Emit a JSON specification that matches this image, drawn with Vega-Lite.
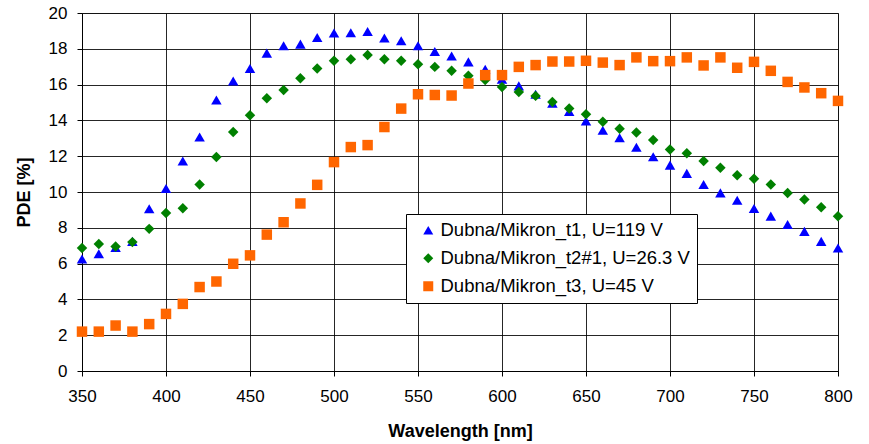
{
  "$schema": "https://vega.github.io/schema/vega-lite/v6.json",
  "autosize": {"type": "none"},
  "width": 756,
  "height": 358,
  "padding": {"left": 82, "top": 13, "right": 31, "bottom": 73},
  "background": "white",
  "config": {
    "font": "Liberation Sans",
    "view": {"stroke": "#808080", "strokeWidth": 1},
    "axis": {
      "gridColor": "#000000",
      "gridOpacity": 0.85,
      "gridWidth": 1,
      "domain": true,
      "domainColor": "#000000",
      "domainWidth": 1,
      "tickColor": "#000000",
      "tickSize": 5,
      "labelFontSize": 17,
      "labelColor": "#000000",
      "labelFlush": false,
      "labelOverlap": false,
      "titleFontSize": 18,
      "titleFontWeight": "bold",
      "titleColor": "#000000"
    }
  },
  "data": {
    "values": [
      {"wl":350,"s":"Dubna/Mikron_t1, U=119 V","pde":6.26},
      {"wl":360,"s":"Dubna/Mikron_t1, U=119 V","pde":6.55},
      {"wl":370,"s":"Dubna/Mikron_t1, U=119 V","pde":6.9},
      {"wl":380,"s":"Dubna/Mikron_t1, U=119 V","pde":7.24},
      {"wl":390,"s":"Dubna/Mikron_t1, U=119 V","pde":9.06},
      {"wl":400,"s":"Dubna/Mikron_t1, U=119 V","pde":10.2},
      {"wl":410,"s":"Dubna/Mikron_t1, U=119 V","pde":11.73},
      {"wl":420,"s":"Dubna/Mikron_t1, U=119 V","pde":13.07},
      {"wl":430,"s":"Dubna/Mikron_t1, U=119 V","pde":15.14},
      {"wl":440,"s":"Dubna/Mikron_t1, U=119 V","pde":16.2},
      {"wl":450,"s":"Dubna/Mikron_t1, U=119 V","pde":16.9},
      {"wl":460,"s":"Dubna/Mikron_t1, U=119 V","pde":17.76},
      {"wl":470,"s":"Dubna/Mikron_t1, U=119 V","pde":18.17},
      {"wl":480,"s":"Dubna/Mikron_t1, U=119 V","pde":18.26},
      {"wl":490,"s":"Dubna/Mikron_t1, U=119 V","pde":18.63},
      {"wl":500,"s":"Dubna/Mikron_t1, U=119 V","pde":18.88},
      {"wl":510,"s":"Dubna/Mikron_t1, U=119 V","pde":18.9},
      {"wl":520,"s":"Dubna/Mikron_t1, U=119 V","pde":18.97},
      {"wl":530,"s":"Dubna/Mikron_t1, U=119 V","pde":18.6},
      {"wl":540,"s":"Dubna/Mikron_t1, U=119 V","pde":18.45},
      {"wl":550,"s":"Dubna/Mikron_t1, U=119 V","pde":18.17},
      {"wl":560,"s":"Dubna/Mikron_t1, U=119 V","pde":17.85},
      {"wl":570,"s":"Dubna/Mikron_t1, U=119 V","pde":17.6},
      {"wl":580,"s":"Dubna/Mikron_t1, U=119 V","pde":17.27},
      {"wl":590,"s":"Dubna/Mikron_t1, U=119 V","pde":16.86},
      {"wl":600,"s":"Dubna/Mikron_t1, U=119 V","pde":16.3},
      {"wl":610,"s":"Dubna/Mikron_t1, U=119 V","pde":15.93},
      {"wl":620,"s":"Dubna/Mikron_t1, U=119 V","pde":15.46},
      {"wl":630,"s":"Dubna/Mikron_t1, U=119 V","pde":14.96},
      {"wl":640,"s":"Dubna/Mikron_t1, U=119 V","pde":14.5},
      {"wl":650,"s":"Dubna/Mikron_t1, U=119 V","pde":13.97},
      {"wl":660,"s":"Dubna/Mikron_t1, U=119 V","pde":13.45},
      {"wl":670,"s":"Dubna/Mikron_t1, U=119 V","pde":13.03},
      {"wl":680,"s":"Dubna/Mikron_t1, U=119 V","pde":12.5},
      {"wl":690,"s":"Dubna/Mikron_t1, U=119 V","pde":11.97},
      {"wl":700,"s":"Dubna/Mikron_t1, U=119 V","pde":11.5},
      {"wl":710,"s":"Dubna/Mikron_t1, U=119 V","pde":11.04},
      {"wl":720,"s":"Dubna/Mikron_t1, U=119 V","pde":10.42},
      {"wl":730,"s":"Dubna/Mikron_t1, U=119 V","pde":9.95},
      {"wl":740,"s":"Dubna/Mikron_t1, U=119 V","pde":9.54},
      {"wl":750,"s":"Dubna/Mikron_t1, U=119 V","pde":9.08},
      {"wl":760,"s":"Dubna/Mikron_t1, U=119 V","pde":8.65},
      {"wl":770,"s":"Dubna/Mikron_t1, U=119 V","pde":8.18},
      {"wl":780,"s":"Dubna/Mikron_t1, U=119 V","pde":7.8},
      {"wl":790,"s":"Dubna/Mikron_t1, U=119 V","pde":7.24},
      {"wl":800,"s":"Dubna/Mikron_t1, U=119 V","pde":6.87},
      {"wl":350,"s":"Dubna/Mikron_t2#1, U=26.3 V","pde":6.87},
      {"wl":360,"s":"Dubna/Mikron_t2#1, U=26.3 V","pde":7.1},
      {"wl":370,"s":"Dubna/Mikron_t2#1, U=26.3 V","pde":6.96},
      {"wl":380,"s":"Dubna/Mikron_t2#1, U=26.3 V","pde":7.2},
      {"wl":390,"s":"Dubna/Mikron_t2#1, U=26.3 V","pde":7.94},
      {"wl":400,"s":"Dubna/Mikron_t2#1, U=26.3 V","pde":8.83},
      {"wl":410,"s":"Dubna/Mikron_t2#1, U=26.3 V","pde":9.09},
      {"wl":420,"s":"Dubna/Mikron_t2#1, U=26.3 V","pde":10.42},
      {"wl":430,"s":"Dubna/Mikron_t2#1, U=26.3 V","pde":11.95},
      {"wl":440,"s":"Dubna/Mikron_t2#1, U=26.3 V","pde":13.35},
      {"wl":450,"s":"Dubna/Mikron_t2#1, U=26.3 V","pde":14.29},
      {"wl":460,"s":"Dubna/Mikron_t2#1, U=26.3 V","pde":15.24},
      {"wl":470,"s":"Dubna/Mikron_t2#1, U=26.3 V","pde":15.7},
      {"wl":480,"s":"Dubna/Mikron_t2#1, U=26.3 V","pde":16.36},
      {"wl":490,"s":"Dubna/Mikron_t2#1, U=26.3 V","pde":16.9},
      {"wl":500,"s":"Dubna/Mikron_t2#1, U=26.3 V","pde":17.33},
      {"wl":510,"s":"Dubna/Mikron_t2#1, U=26.3 V","pde":17.42},
      {"wl":520,"s":"Dubna/Mikron_t2#1, U=26.3 V","pde":17.65},
      {"wl":530,"s":"Dubna/Mikron_t2#1, U=26.3 V","pde":17.42},
      {"wl":540,"s":"Dubna/Mikron_t2#1, U=26.3 V","pde":17.33},
      {"wl":550,"s":"Dubna/Mikron_t2#1, U=26.3 V","pde":17.14},
      {"wl":560,"s":"Dubna/Mikron_t2#1, U=26.3 V","pde":16.99},
      {"wl":570,"s":"Dubna/Mikron_t2#1, U=26.3 V","pde":16.77},
      {"wl":580,"s":"Dubna/Mikron_t2#1, U=26.3 V","pde":16.49},
      {"wl":590,"s":"Dubna/Mikron_t2#1, U=26.3 V","pde":16.26},
      {"wl":600,"s":"Dubna/Mikron_t2#1, U=26.3 V","pde":15.87},
      {"wl":610,"s":"Dubna/Mikron_t2#1, U=26.3 V","pde":15.59},
      {"wl":620,"s":"Dubna/Mikron_t2#1, U=26.3 V","pde":15.37},
      {"wl":630,"s":"Dubna/Mikron_t2#1, U=26.3 V","pde":15.03},
      {"wl":640,"s":"Dubna/Mikron_t2#1, U=26.3 V","pde":14.66},
      {"wl":650,"s":"Dubna/Mikron_t2#1, U=26.3 V","pde":14.34},
      {"wl":660,"s":"Dubna/Mikron_t2#1, U=26.3 V","pde":13.93},
      {"wl":670,"s":"Dubna/Mikron_t2#1, U=26.3 V","pde":13.54},
      {"wl":680,"s":"Dubna/Mikron_t2#1, U=26.3 V","pde":13.32},
      {"wl":690,"s":"Dubna/Mikron_t2#1, U=26.3 V","pde":12.9},
      {"wl":700,"s":"Dubna/Mikron_t2#1, U=26.3 V","pde":12.38},
      {"wl":710,"s":"Dubna/Mikron_t2#1, U=26.3 V","pde":12.16},
      {"wl":720,"s":"Dubna/Mikron_t2#1, U=26.3 V","pde":11.73},
      {"wl":730,"s":"Dubna/Mikron_t2#1, U=26.3 V","pde":11.36},
      {"wl":740,"s":"Dubna/Mikron_t2#1, U=26.3 V","pde":10.94},
      {"wl":750,"s":"Dubna/Mikron_t2#1, U=26.3 V","pde":10.74},
      {"wl":760,"s":"Dubna/Mikron_t2#1, U=26.3 V","pde":10.42},
      {"wl":770,"s":"Dubna/Mikron_t2#1, U=26.3 V","pde":9.95},
      {"wl":780,"s":"Dubna/Mikron_t2#1, U=26.3 V","pde":9.58},
      {"wl":790,"s":"Dubna/Mikron_t2#1, U=26.3 V","pde":9.15},
      {"wl":800,"s":"Dubna/Mikron_t2#1, U=26.3 V","pde":8.65},
      {"wl":350,"s":"Dubna/Mikron_t3, U=45 V","pde":2.2},
      {"wl":360,"s":"Dubna/Mikron_t3, U=45 V","pde":2.2},
      {"wl":370,"s":"Dubna/Mikron_t3, U=45 V","pde":2.54},
      {"wl":380,"s":"Dubna/Mikron_t3, U=45 V","pde":2.2},
      {"wl":390,"s":"Dubna/Mikron_t3, U=45 V","pde":2.62},
      {"wl":400,"s":"Dubna/Mikron_t3, U=45 V","pde":3.19},
      {"wl":410,"s":"Dubna/Mikron_t3, U=45 V","pde":3.75},
      {"wl":420,"s":"Dubna/Mikron_t3, U=45 V","pde":4.69},
      {"wl":430,"s":"Dubna/Mikron_t3, U=45 V","pde":5.0},
      {"wl":440,"s":"Dubna/Mikron_t3, U=45 V","pde":5.99},
      {"wl":450,"s":"Dubna/Mikron_t3, U=45 V","pde":6.46},
      {"wl":460,"s":"Dubna/Mikron_t3, U=45 V","pde":7.62},
      {"wl":470,"s":"Dubna/Mikron_t3, U=45 V","pde":8.31},
      {"wl":480,"s":"Dubna/Mikron_t3, U=45 V","pde":9.36},
      {"wl":490,"s":"Dubna/Mikron_t3, U=45 V","pde":10.4},
      {"wl":500,"s":"Dubna/Mikron_t3, U=45 V","pde":11.67},
      {"wl":510,"s":"Dubna/Mikron_t3, U=45 V","pde":12.51},
      {"wl":520,"s":"Dubna/Mikron_t3, U=45 V","pde":12.62},
      {"wl":530,"s":"Dubna/Mikron_t3, U=45 V","pde":13.63},
      {"wl":540,"s":"Dubna/Mikron_t3, U=45 V","pde":14.66},
      {"wl":550,"s":"Dubna/Mikron_t3, U=45 V","pde":15.46},
      {"wl":560,"s":"Dubna/Mikron_t3, U=45 V","pde":15.42},
      {"wl":570,"s":"Dubna/Mikron_t3, U=45 V","pde":15.39},
      {"wl":580,"s":"Dubna/Mikron_t3, U=45 V","pde":16.06},
      {"wl":590,"s":"Dubna/Mikron_t3, U=45 V","pde":16.53},
      {"wl":600,"s":"Dubna/Mikron_t3, U=45 V","pde":16.53},
      {"wl":610,"s":"Dubna/Mikron_t3, U=45 V","pde":16.99},
      {"wl":620,"s":"Dubna/Mikron_t3, U=45 V","pde":17.09},
      {"wl":630,"s":"Dubna/Mikron_t3, U=45 V","pde":17.29},
      {"wl":640,"s":"Dubna/Mikron_t3, U=45 V","pde":17.29},
      {"wl":650,"s":"Dubna/Mikron_t3, U=45 V","pde":17.33},
      {"wl":660,"s":"Dubna/Mikron_t3, U=45 V","pde":17.23},
      {"wl":670,"s":"Dubna/Mikron_t3, U=45 V","pde":17.09},
      {"wl":680,"s":"Dubna/Mikron_t3, U=45 V","pde":17.52},
      {"wl":690,"s":"Dubna/Mikron_t3, U=45 V","pde":17.31},
      {"wl":700,"s":"Dubna/Mikron_t3, U=45 V","pde":17.31},
      {"wl":710,"s":"Dubna/Mikron_t3, U=45 V","pde":17.52},
      {"wl":720,"s":"Dubna/Mikron_t3, U=45 V","pde":17.07},
      {"wl":730,"s":"Dubna/Mikron_t3, U=45 V","pde":17.52},
      {"wl":740,"s":"Dubna/Mikron_t3, U=45 V","pde":16.94},
      {"wl":750,"s":"Dubna/Mikron_t3, U=45 V","pde":17.27},
      {"wl":760,"s":"Dubna/Mikron_t3, U=45 V","pde":16.77},
      {"wl":770,"s":"Dubna/Mikron_t3, U=45 V","pde":16.15},
      {"wl":780,"s":"Dubna/Mikron_t3, U=45 V","pde":15.84},
      {"wl":790,"s":"Dubna/Mikron_t3, U=45 V","pde":15.52},
      {"wl":800,"s":"Dubna/Mikron_t3, U=45 V","pde":15.09}
    ]
  },
  "mark": {"type": "point", "filled": true, "opacity": 1, "size": 110},
  "encoding": {
    "x": {
      "field": "wl", "type": "quantitative",
      "scale": {"domain": [350, 800], "nice": false, "zero": false},
      "axis": {"values": [350,400,450,500,550,600,650,700,750,800], "title": "Wavelength [nm]", "labelPadding": 12, "titlePadding": 18}
    },
    "y": {
      "field": "pde", "type": "quantitative",
      "scale": {"domain": [0, 20], "nice": false},
      "axis": {"values": [0,2,4,6,8,10,12,14,16,18,20], "title": "PDE [%]", "labelPadding": 10, "titlePadding": 15}
    },
    "color": {
      "field": "s", "type": "nominal",
      "scale": {"domain": ["Dubna/Mikron_t1, U=119 V", "Dubna/Mikron_t2#1, U=26.3 V", "Dubna/Mikron_t3, U=45 V"], "range": ["#0000FF", "#008000", "#FF6600"]},
      "legend": {
        "title": null,
        "orient": "none",
        "legendX": 324,
        "legendY": 201,
        "direction": "vertical",
        "fillColor": "white",
        "strokeColor": "#000000",
        "padding": 7,
        "symbolOffset": 6,
        "labelFontSize": 18.5,
        "labelColor": "#000000",
        "labelLimit": 0,
        "symbolSize": 100,
        "rowPadding": 9,
        "labelOffset": 3
      }
    },
    "shape": {
      "field": "s", "type": "nominal",
      "scale": {"domain": ["Dubna/Mikron_t1, U=119 V", "Dubna/Mikron_t2#1, U=26.3 V", "Dubna/Mikron_t3, U=45 V"], "range": ["triangle-up", "diamond", "square"]}
    }
  }
}
